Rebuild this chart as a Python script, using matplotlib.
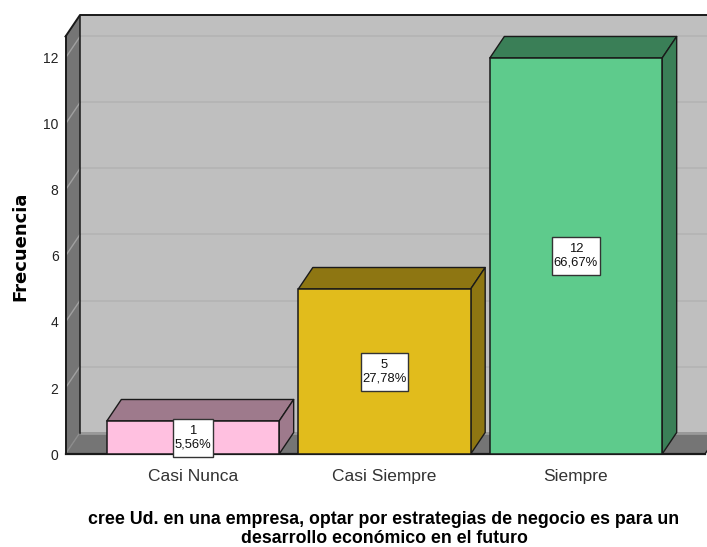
import matplotlib
matplotlib.use('Agg')
import matplotlib.pyplot as plt
from matplotlib.patches import Polygon, Rectangle

plt.rcParams['font.family'] = ['Liberation Sans', 'DejaVu Sans']

categories = ['Casi Nunca', 'Casi Siempre', 'Siempre']
counts = [1, 5, 12]
percents = ['5,56%', '27,78%', '66,67%']
yticks = [0, 2, 4, 6, 8, 10, 12]
front_colors = ['#ffc0e0', '#e1bc1c', '#5ecb8c']
dark_colors = ['#9e7a8c', '#8e7612', '#3a7f57']
xlabel = 'cree Ud. en una empresa, optar por estrategias de negocio es para un\ndesarrollo económico en el futuro'
ylabel = 'Frecuencia'

W, H = 707, 547
PX_X = 191.5   # pixels per category
PX_Y = 33.0    # pixels per count
L, R, B, T = 65.5, 707, 454, 15

fig = plt.figure(figsize=(W / 100, H / 100), dpi=100, facecolor='white')
ax = fig.add_axes([L / W, 1 - B / H, (R - L) / W, (B - T) / H])
xmin = (L - 193) / PX_X
xmax = (R - 193) / PX_X
ymax = (B - T) / PX_Y
ax.set_xlim(xmin, xmax)
ax.set_ylim(0, ymax)
for s in ax.spines.values():
    s.set_visible(False)
ax.patch.set_visible(False)

dx = 14.5 / PX_X
dy = 21.5 / PX_Y
bw = 0.9
EDGE = '#1a1a1a'
front_top = ymax - dy
xback = xmin + dx

# walls and floor
ax.add_patch(Polygon([(xback, dy), (xmax + 0.1, dy), (xmax + 0.1, ymax), (xback, ymax)],
                     fc='#bfbfbf', ec='none', zorder=1))
ax.add_patch(Polygon([(xmin, 0), (xback, dy), (xback, ymax), (xmin, front_top)],
                     fc='#757575', ec='none', zorder=1))
xfloor_end = (705 - 193) / PX_X
ax.add_patch(Polygon([(xmin, 0), (xfloor_end, 0), (xfloor_end + dx, dy), (xback, dy)],
                     fc='#757575', ec='none', zorder=1, clip_on=False))

# gridlines on both walls
for t in yticks[1:]:
    ax.plot([xback, xmax], [t + dy, t + dy], color='#b5b5b5', lw=1.3, zorder=2, solid_capstyle='butt')
    ax.plot([xmin, xback], [t, t + dy], color='#a0a0a0', lw=1.0, zorder=2)
ax.plot([xback, xmax], [dy, dy], color='#9a9a9a', lw=2.0, zorder=2, solid_capstyle='butt')
ax.plot([xmin, xback], [0, dy], color='#8c8c8c', lw=1.0, zorder=2)

# wall outlines
ax.plot([xmin, xmin], [0, front_top], color=EDGE, lw=1.4, zorder=3, clip_on=False)
ax.plot([xmin, xback, xmax], [front_top, ymax, ymax], color=EDGE, lw=1.4, zorder=3, clip_on=False)
ax.plot([xback, xback], [dy, ymax], color=EDGE, lw=1.1, zorder=3)
ax.plot([xmin, xfloor_end], [0, 0], color=EDGE, lw=1.6, zorder=3, clip_on=False)
ax.plot([xfloor_end, xfloor_end + dx], [0, dy], color=EDGE, lw=1.0, zorder=3, clip_on=True)

# bars
positions = list(range(len(categories)))
for i, v in enumerate(counts):
    x0, x1 = i - bw / 2, i + bw / 2
    ax.add_patch(Polygon([(x0, v), (x1, v), (x1 + dx, v + dy), (x0 + dx, v + dy)],
                         fc=dark_colors[i], ec=EDGE, lw=1.0, zorder=4, joinstyle='round'))
    ax.add_patch(Polygon([(x1, 0), (x1 + dx, dy), (x1 + dx, v + dy), (x1, v)],
                         fc=dark_colors[i], ec=EDGE, lw=1.0, zorder=4, joinstyle='round'))
ax.bar(positions, counts, width=bw, color=front_colors, edgecolor=EDGE, linewidth=1.1, zorder=5)

# value labels: box fitted to the text with separate x and y padding
renderer = fig.canvas.get_renderer()
for i, v in enumerate(counts):
    t = ax.text(i, v / 2, f'{v}\n{percents[i]}', ha='center', va='center', fontsize=9.4,
                color='#111111', linespacing=1.12, zorder=7, clip_on=False)
    bb = t.get_window_extent(renderer)
    half_w = (bb.width / 2 + 1.5) / PX_X
    half_h = 19 / PX_Y
    ax.add_patch(Rectangle((i - half_w, v / 2 - half_h), 2 * half_w, 2 * half_h, fc='white',
                           ec='#333333', lw=1.0, zorder=6, clip_on=False))

# axes text
ax.set_xticks(positions)
ax.set_xticklabels(categories, fontsize=12.5, color='#333333')
ax.set_yticks(yticks)
ax.set_yticklabels([str(t) for t in yticks], fontsize=10, color='#222222')
ax.tick_params(axis='both', length=0)
ax.tick_params(axis='y', pad=5)
ax.tick_params(axis='x', pad=11)

fig.text(20 / W, 1 - 246 / H, ylabel, rotation=90, ha='center', va='center',
         family=['DejaVu Sans'], fontsize=13, fontweight='bold', color='black')
fig.text(384 / W, 1 - 529 / H, xlabel, ha='center', va='center', fontsize=12.8,
         fontweight='bold', color='black', linespacing=1.1)

fig.savefig('out.png', dpi=100)
